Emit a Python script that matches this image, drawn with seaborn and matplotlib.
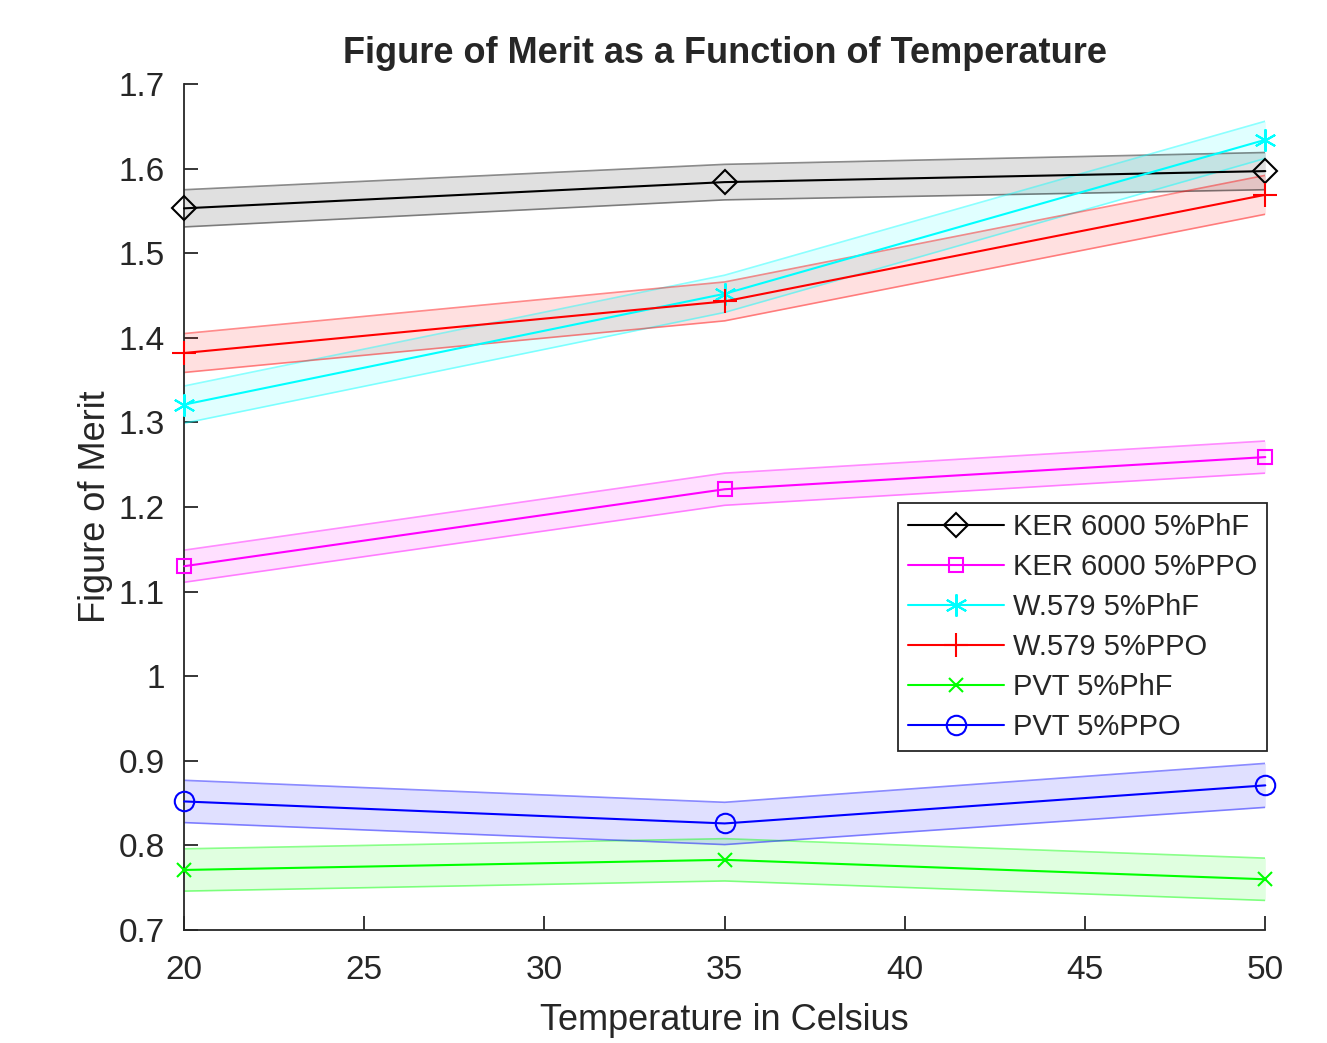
import numpy as np
import pandas as pd
import matplotlib
matplotlib.use('Agg')
import matplotlib.pyplot as plt
import seaborn as sns

# Temperatures measured (Celsius)
temperatures = [20, 35, 50]

# Series names, in legend order
series_names = ['KER 6000 5%PhF', 'KER 6000 5%PPO', 'W.579 5%PhF',
                'W.579 5%PPO', 'PVT 5%PhF', 'PVT 5%PPO']

# Figure of merit
ker_phf = [1.553, 1.584, 1.597]
ker_ppo = [1.130, 1.221, 1.259]
w579_phf = [1.321, 1.452, 1.634]
w579_ppo = [1.382, 1.443, 1.569]
pvt_phf = [0.771, 0.783, 0.760]
pvt_ppo = [0.852, 0.826, 0.871]

# Half-width of the shaded uncertainty band
ker_phf_err = [0.022, 0.021, 0.022]
ker_ppo_err = [0.019, 0.019, 0.019]
w579_phf_err = [0.022, 0.022, 0.022]
w579_ppo_err = [0.023, 0.023, 0.023]
pvt_phf_err = [0.025, 0.025, 0.025]
pvt_ppo_err = [0.025, 0.025, 0.026]

values = [ker_phf, ker_ppo, w579_phf, w579_ppo, pvt_phf, pvt_ppo]
errors = [ker_phf_err, ker_ppo_err, w579_phf_err, w579_ppo_err, pvt_phf_err, pvt_ppo_err]
colors = ['#000000', '#FF00FF', '#00FFFF', '#FF0000', '#00FF00', '#0000FF']
asterisk = (6, 2, 0)
markers = ['D', 's', asterisk, '+', 'x', 'o']
marker_sizes = [12, 10, 16, 17, 10, 14]

sns.set_style('ticks')
plt.rcParams['font.family'] = ['Liberation Sans', 'DejaVu Sans']

fig = plt.figure(figsize=(13.27, 10.43), dpi=100)
ax = fig.add_axes([0.1387, 0.1083, 0.8148, 0.8112])

for name, vals, errs, color, marker, ms in zip(series_names, values, errors,
                                                colors, markers, marker_sizes):
    df = pd.DataFrame({'Temperature': temperatures, 'FoM': vals})
    lo = np.array(vals) - np.array(errs)
    hi = np.array(vals) + np.array(errs)
    ax.fill_between(temperatures, lo, hi, color=color, alpha=0.12, linewidth=0)
    ax.plot(temperatures, lo, color=color, alpha=0.45, linewidth=1.2)
    ax.plot(temperatures, hi, color=color, alpha=0.45, linewidth=1.2)
    sns.lineplot(data=df, x='Temperature', y='FoM', ax=ax, color=color,
                 marker=marker, markersize=ms, markerfacecolor='none',
                 markeredgecolor=color, markeredgewidth=1.5, linewidth=1.5,
                 errorbar=None, label=name, clip_on=False, zorder=5)

ax.set_xlim(20, 50)
ax.set_ylim(0.7, 1.7)
ax.set_xticks(range(20, 51, 5))
ax.set_yticks(np.arange(0.7, 1.71, 0.1))
ax.set_yticklabels(['0.7', '0.8', '0.9', '1', '1.1', '1.2', '1.3', '1.4', '1.5', '1.6', '1.7'])

for side in ['top', 'right']:
    ax.spines[side].set_visible(False)
for side in ['left', 'bottom']:
    ax.spines[side].set_color('#262626')
    ax.spines[side].set_linewidth(1.3)
ax.tick_params(direction='in', length=10, width=1.3, colors='#262626',
               labelsize=24)
ax.tick_params(axis='x', pad=18)
ax.tick_params(axis='y', pad=14)

ax.set_xlabel('Temperature in Celsius', fontsize=26, color='#262626', labelpad=12)
ax.set_ylabel('Figure of Merit', fontsize=26, color='#262626', labelpad=4)
ax.set_title('Figure of Merit as a Function of Temperature', fontsize=26,
             fontweight='bold', pad=15)

leg = ax.legend(loc='upper left', bbox_to_anchor=(0.66, 0.505), fontsize=21,
                frameon=True, fancybox=False, handlelength=3.3, handletextpad=0.3,
                labelspacing=0.41, borderpad=0.35, borderaxespad=0)
leg.get_frame().set_edgecolor('#262626')
leg.get_frame().set_linewidth(1.3)
leg.get_frame().set_alpha(1)

plt.savefig('out.png', dpi=100)
